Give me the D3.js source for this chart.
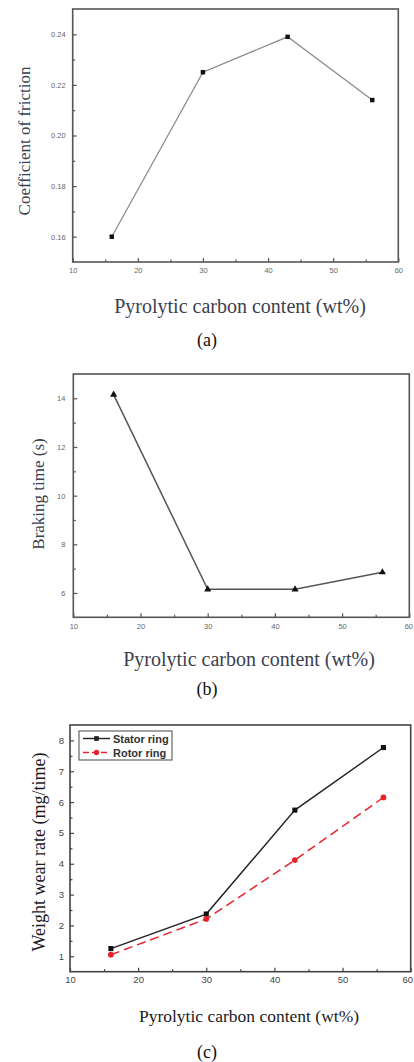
<!DOCTYPE html>
<html>
<head>
<meta charset="utf-8">
<script src="https://cdn.jsdelivr.net/npm/d3@7"></script>
<style>
  html, body { margin: 0; padding: 0; background: #fff; }
  svg { display: block; }
</style>
</head>
<body>
<svg id="fig" width="414" height="1062"></svg>
<script>
// Pyrolytic carbon content (wt%) shared by all three panels
const carbonContent = [16, 30, 43, 56];
const xTickValues = [10, 20, 30, 40, 50, 60];

// (a) coefficient of friction
const frictionCoef = [0.160, 0.225, 0.239, 0.214];
const frictionTicks = [0.16, 0.18, 0.20, 0.22, 0.24];

// (b) braking time in seconds
const brakingTime = [14.15, 6.15, 6.15, 6.85];
const brakingTicks = [6, 8, 10, 12, 14];

// (c) weight wear rate (mg/time)
const statorWear = [1.25, 2.37, 5.74, 7.77];
const rotorWear = [1.05, 2.21, 4.12, 6.15];
const wearTicks = [1, 2, 3, 4, 5, 6, 7, 8];
const seriesNames = ["Stator ring", "Rotor ring"];

const xTitle = "Pyrolytic carbon content (wt%)";

const svg = d3.select("#fig");
const serif = "'Liberation Serif', 'Times New Roman', serif";
const sans = "'Liberation Sans', Arial, sans-serif";
const pageWidth = 414;

function drawPanel(cfg) {
  const x = d3.scaleLinear().domain([10, 60]).range([cfg.left, cfg.right]);
  const y = d3.scaleLinear().domain(cfg.yDomain).range([cfg.bottom, cfg.top]);
  const g = svg.append("g");

  // inward major + minor ticks
  const xMinor = d3.range(15, 60, 10);
  const yMinor = cfg.yMinor;

  const xAxis = d3.axisBottom(x).tickValues(xTickValues).tickSize(-4).tickPadding(cfg.xPad).tickFormat(d3.format("d"));
  const yAxis = d3.axisLeft(y).tickValues(cfg.yTicks).tickSize(-4).tickPadding(cfg.yPad).tickFormat(cfg.yFormat);

  const gx = g.append("g").attr("transform", `translate(0,${cfg.bottom})`).call(xAxis);
  const gy = g.append("g").attr("transform", `translate(${cfg.left},0)`).call(yAxis);
  [gx, gy].forEach(a => {
    a.select(".domain").remove();
    a.selectAll(".tick line").attr("stroke", cfg.axisColor).attr("stroke-width", 1.2);
    a.selectAll(".tick text").attr("fill", cfg.tickColor).style("font-family", sans)
      .style("font-size", cfg.tickFont + "px");
  });
  // keep the last x label inside the page
  gx.selectAll(".tick text").each(function () {
    const b = this.getBBox();
    const t = this.parentNode.transform.baseVal.consolidate();
    const tx = t ? t.matrix.e : 0;
    const over = tx + b.x + b.width - (pageWidth - 1);
    if (over > 0) d3.select(this).attr("dx", -over);
  });

  g.append("g").attr("transform", `translate(0,${cfg.bottom})`)
    .call(d3.axisBottom(x).tickValues(xMinor).tickSize(-2.5).tickFormat(""))
    .call(a => { a.select(".domain").remove(); a.selectAll("line").attr("stroke", cfg.axisColor).attr("stroke-width", 1.2); });
  g.append("g").attr("transform", `translate(${cfg.left},0)`)
    .call(d3.axisLeft(y).tickValues(yMinor).tickSize(-2.5).tickFormat(""))
    .call(a => { a.select(".domain").remove(); a.selectAll("line").attr("stroke", cfg.axisColor).attr("stroke-width", 1.2); });

  // plot frame
  g.append("rect")
    .attr("x", cfg.left).attr("y", cfg.top)
    .attr("width", cfg.right - cfg.left).attr("height", cfg.bottom - cfg.top)
    .attr("fill", "none").attr("stroke", cfg.axisColor).attr("stroke-width", 1.6);

  cfg.series.forEach(s => {
    const pts = carbonContent.map((c, i) => [c, s.values[i]]);
    g.append("path")
      .attr("d", d3.line().x(d => x(d[0])).y(d => y(d[1]))(pts))
      .attr("fill", "none").attr("stroke", s.color).attr("stroke-width", s.width)
      .attr("stroke-dasharray", s.dash || null);
    g.selectAll(null).data(pts).enter().append("path")
      .attr("transform", d => `translate(${x(d[0])},${y(d[1])})`)
      .attr("d", d3.symbol().type(s.symbol).size(s.size))
      .attr("fill", s.markColor);
  });

  // axis titles
  g.append("text")
    .attr("transform", `translate(${cfg.yTitleX},${cfg.yTitleY}) rotate(-90)`)
    .attr("text-anchor", "middle")
    .attr("fill", cfg.titleColor)
    .style("font-family", serif).style("font-size", cfg.yTitleFont + "px")
    .text(cfg.yTitle);
  g.append("text")
    .attr("x", cfg.xTitleX).attr("y", cfg.xTitleY)
    .attr("text-anchor", "middle")
    .attr("fill", cfg.titleColor)
    .style("font-family", serif).style("font-size", cfg.xTitleFont + "px")
    .text(xTitle);

  // panel caption
  g.append("text")
    .attr("x", 207).attr("y", cfg.captionY)
    .attr("text-anchor", "middle").attr("fill", "#111")
    .style("font-family", serif).style("font-size", "18px")
    .text(cfg.caption);

  return { g, x, y };
}

// (a)
drawPanel({
  left: 72.7, right: 398.3, top: 9, bottom: 262,
  yDomain: [0.15, 0.25], yTicks: frictionTicks, yMinor: [0.17, 0.19, 0.21, 0.23],
  yFormat: d3.format(".2f"), xPad: 6, yPad: 7, tickFont: 7.5,
  axisColor: "#555", tickColor: "#666", titleColor: "#3b3f4e",
  series: [{ values: frictionCoef, color: "#8c8c8c", width: 1.3, symbol: d3.symbolSquare, size: 20, markColor: "#111" }],
  yTitle: "Coefficient of friction", yTitleX: 30, yTitleY: 141, yTitleFont: 17,
  xTitleX: 240, xTitleY: 313, xTitleFont: 20,
  caption: "(a)", captionY: 346
});

// (b)
drawPanel({
  left: 73.3, right: 409.3, top: 374, bottom: 617.3,
  yDomain: [5, 15], yTicks: brakingTicks, yMinor: [7, 9, 11, 13],
  yFormat: d3.format("d"), xPad: 6, yPad: 8, tickFont: 7.5,
  axisColor: "#555", tickColor: "#666", titleColor: "#3b3f4e",
  series: [{ values: brakingTime, color: "#555", width: 1.5, symbol: d3.symbolTriangle, size: 22, markColor: "#111" }],
  yTitleX: 44, yTitleY: 494, yTitleFont: 17, yTitle: "Braking time (s)",
  xTitleX: 249, xTitleY: 666, xTitleFont: 20,
  caption: "(b)", captionY: 695
});

// (c)
const pc = drawPanel({
  left: 70, right: 410.7, top: 725, bottom: 971.7,
  yDomain: [0.5, 8.5], yTicks: wearTicks, yMinor: [1.5, 2.5, 3.5, 4.5, 5.5, 6.5, 7.5],
  yFormat: d3.format("d"), xPad: 5, yPad: 6, tickFont: 9.5,
  axisColor: "#444", tickColor: "#444", titleColor: "#1a1a1e",
  series: [
    { values: statorWear, color: "#222", width: 1.4, symbol: d3.symbolSquare, size: 26, markColor: "#111" },
    { values: rotorWear, color: "#e8222a", width: 1.5, dash: "9,5", symbol: d3.symbolCircle, size: 26, markColor: "#e8222a" }
  ],
  yTitleX: 45, yTitleY: 852, yTitleFont: 18, yTitle: "Weight wear rate (mg/time)",
  xTitleX: 249, xTitleY: 1022, xTitleFont: 17.5,
  caption: "(c)", captionY: 1058
});

// legend for (c)
const lg = pc.g.append("g");
lg.append("rect").attr("x", 79).attr("y", 731).attr("width", 93).attr("height", 29)
  .attr("fill", "#fff").attr("stroke", "#666").attr("stroke-width", 1.2);
const legendItems = [
  { name: seriesNames[0], color: "#222", dash: null, symbol: d3.symbolSquare, yy: 738.5 },
  { name: seriesNames[1], color: "#e8222a", dash: "6,3", symbol: d3.symbolCircle, yy: 752.5 }
];
legendItems.forEach(it => {
  lg.append("line").attr("x1", 83).attr("x2", 110).attr("y1", it.yy).attr("y2", it.yy)
    .attr("stroke", it.color).attr("stroke-width", 1.4).attr("stroke-dasharray", it.dash);
  lg.append("path").attr("transform", `translate(96.5,${it.yy})`)
    .attr("d", d3.symbol().type(it.symbol).size(22)).attr("fill", it.color);
  lg.append("text").attr("x", 113).attr("y", it.yy + 4)
    .attr("fill", "#333").style("font-family", sans).style("font-size", "11px").style("font-weight", "bold")
    .text(it.name);
});
</script>
</body>
</html>
